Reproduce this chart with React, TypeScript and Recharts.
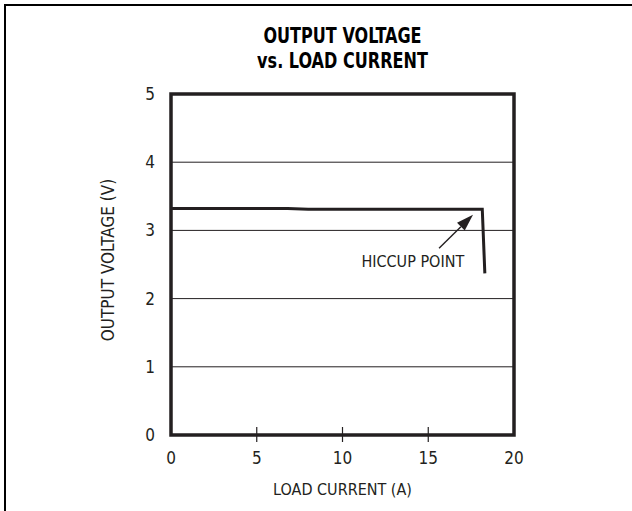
import React from 'react';
import { LineChart, Line, XAxis, YAxis, CartesianGrid, ReferenceArea, ReferenceLine, ReferenceDot } from 'recharts';

const loadCurrent = [0, 6.8, 8.0, 17.0, 18.15, 18.3];
const outputVoltage = [3.32, 3.32, 3.31, 3.31, 3.31, 2.37];
const xTicks = [0, 5, 10, 15, 20];
const yTicks = [0, 1, 2, 3, 4, 5];
const titleLines = ['OUTPUT VOLTAGE', 'vs. LOAD CURRENT'];
const xLabel = 'LOAD CURRENT (A)';
const yLabel = 'OUTPUT VOLTAGE (V)';
const annotationText = 'HICCUP POINT';
const arrowFrom = { x: 15.63, y: 2.74 };
const arrowTo = { x: 17.61, y: 3.23 };
const annotationAt = { x: 14.1, y: 2.47 };

const data = loadCurrent.map((x, i) => ({ x, v: outputVoltage[i] }));

const INK = '#231f20';
const NARROW = "'Liberation Sans Narrow', 'DejaVu Sans Condensed', 'Arial Narrow', sans-serif";

const XTick = (props: any) => {
  const { x, y, payload } = props;
  const inner = payload.value !== 0 && payload.value !== 20;
  return (
    <g>
      {inner && <line x1={x} x2={x} y1={y - 8} y2={y + 7} stroke={INK} strokeWidth={1.2} />}
      <text x={x} y={y + 29} textAnchor="middle" fill={INK} fontFamily={NARROW} fontSize={17}>
        {payload.value}
      </text>
    </g>
  );
};

const YTick = (props: any) => {
  const { x, y, payload } = props;
  return (
    <text x={x} y={y + 6} textAnchor="end" fill={INK} fontFamily={NARROW} fontSize={17}>
      {payload.value}
    </text>
  );
};

const ArrowShape = (p: any) => {
  const { x1, y1, x2, y2 } = p;
  const ang = Math.atan2(y2 - y1, x2 - x1);
  const L = 17;
  const W = 5.5;
  const bx = x2 - L * Math.cos(ang);
  const by = y2 - L * Math.sin(ang);
  const px = -Math.sin(ang) * W;
  const py = Math.cos(ang) * W;
  return (
    <g>
      <line x1={x1} y1={y1} x2={bx} y2={by} stroke={INK} strokeWidth={1.4} />
      <polygon points={`${x2},${y2} ${bx + px},${by + py} ${bx - px},${by - py}`} fill={INK} />
    </g>
  );
};

const AnnotationText = (p: any) => {
  const { cx, cy } = p;
  return (
    <text x={cx} y={cy} textAnchor="middle" fill={INK} fontFamily={NARROW} fontSize={16}>
      {annotationText}
    </text>
  );
};

const YLabel = () => {
  const cx = 114;
  const cy = 260;
  return (
    <text
      x={cx}
      y={cy}
      textAnchor="middle"
      fill={INK}
      fontFamily={NARROW}
      fontSize={17}
      transform={`rotate(-90, ${cx}, ${cy})`}
    >
      {yLabel}
    </text>
  );
};

export default function App() {
  return (
    <div style={{ position: 'absolute', left: 0, top: 0, width: 632, height: 511, background: '#fff' }}>
      <div
        style={{
          position: 'absolute',
          left: 4,
          top: 4,
          width: 628,
          height: 507,
          borderTop: '2px solid #000',
          borderLeft: '2px solid #000',
          boxSizing: 'border-box',
        }}
      />
      <div
        style={{
          position: 'absolute',
          left: 171,
          width: 343,
          top: 24,
          textAlign: 'center',
          fontFamily: NARROW,
          fontWeight: 'bold',
          fontSize: 21,
          lineHeight: '25px',
          color: '#000',
          transform: 'scaleX(0.85)',
          transformOrigin: '50% 0',
        }}
      >
        {titleLines.map((t) => (
          <div key={t}>{t}</div>
        ))}
      </div>
      <div style={{ position: 'absolute', left: 0, top: 0 }}>
        <LineChart width={632} height={511} data={data} margin={{ top: 94, right: 118, bottom: 46, left: 111 }}>
          <CartesianGrid vertical={false} stroke={INK} strokeWidth={1} />
          <XAxis
            dataKey="x"
            type="number"
            domain={[0, 20]}
            ticks={xTicks}
            interval={0}
            axisLine={false}
            tickLine={false}
            tickSize={0}
            tickMargin={0}
            height={30}
            tick={<XTick />}
            label={{ value: xLabel, position: 'insideBottom', offset: -30, fill: INK, fontFamily: NARROW, fontSize: 16 }}
          />
          <YAxis
            type="number"
            domain={[0, 5]}
            ticks={yTicks}
            interval={0}
            axisLine={false}
            tickLine={false}
            tickSize={0}
            tickMargin={16}
            width={60}
            tick={<YTick />}
            label={<YLabel />}
          />
          <ReferenceArea x1={0} x2={20} y1={0} y2={5} fill="none" stroke={INK} strokeWidth={3.5} ifOverflow="visible" />
          <ReferenceLine
            segment={[arrowFrom, arrowTo]}
            ifOverflow="visible"
            stroke={INK}
            shape={<ArrowShape />}
          />
          <ReferenceDot x={annotationAt.x} y={annotationAt.y} r={0} ifOverflow="visible" shape={<AnnotationText />} />
          <Line
            type="linear"
            dataKey="v"
            stroke={INK}
            strokeWidth={3}
            dot={false}
            isAnimationActive={false}
          />
        </LineChart>
      </div>
    </div>
  );
}
